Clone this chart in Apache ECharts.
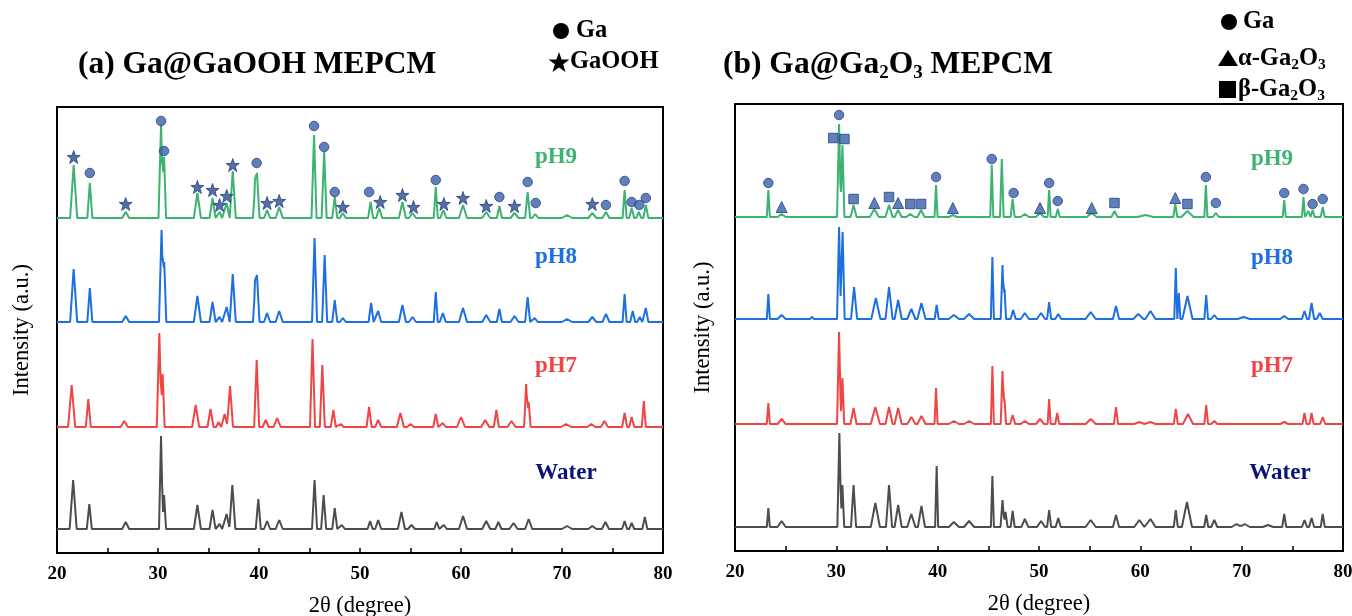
<!DOCTYPE html>
<html><head><meta charset="utf-8">
<script src="https://cdn.jsdelivr.net/npm/echarts@6/dist/echarts.min.js"></script>
<style>html,body{margin:0;padding:0;background:#fff}#c{width:1352px;height:616px}</style>
</head><body><div id="c"></div>
<script>
// ---- Data: XRD peaks: [2θ (deg), intensity (a.u.), half base width (deg)] ----
const A_pH9 = [[21.65,53,0.35],[23.25,35,0.25],[26.8,6,0.35],[30.3,93,0.25],[30.6,61,0.2],[33.9,25,0.35],[35.4,20,0.3],[36.1,6,0.25],[36.8,15,0.3],[37.4,47,0.3],[39.6,30,0.2],[39.8,45,0.25],[40.8,8,0.3],[42.0,11,0.35],[45.45,83,0.25],[46.45,66,0.25],[47.5,21,0.25],[48.3,5,0.3],[51.05,16,0.25],[51.9,10,0.3],[54.2,16,0.35],[55.2,5,0.35],[57.5,31,0.2],[58.25,8,0.3],[60.2,13,0.4],[62.5,6,0.4],[63.8,12,0.25],[65.3,5,0.4],[66.6,26,0.25],[67.35,4,0.3],[70.5,3,0.5],[73.0,5,0.4],[74.35,6,0.35],[76.2,28,0.2],[76.9,10,0.25],[77.6,6,0.25],[78.3,13,0.25]];
const A_pH8 = [[21.65,53,0.35],[23.25,34,0.25],[26.8,6,0.35],[30.35,92,0.25],[30.62,60,0.2],[33.9,26,0.35],[35.4,20,0.3],[36.1,5,0.25],[36.8,15,0.3],[37.4,48,0.3],[39.6,32,0.2],[39.8,47,0.25],[40.8,9,0.3],[42.0,11,0.35],[45.5,84,0.25],[46.5,67,0.25],[47.5,22,0.25],[48.3,4,0.3],[51.1,19,0.25],[51.8,11,0.3],[54.2,17,0.35],[55.2,5,0.35],[57.5,30,0.2],[58.2,9,0.3],[60.2,14,0.4],[62.5,7,0.4],[63.8,13,0.25],[65.3,6,0.4],[66.6,25,0.25],[67.3,4,0.3],[70.5,3,0.5],[73.0,5,0.4],[74.35,8,0.35],[76.2,28,0.2],[77.0,11,0.25],[77.7,5,0.25],[78.3,14,0.25]];
const A_pH7 = [[21.45,42,0.35],[23.1,28,0.25],[26.66,6,0.35],[30.13,94,0.25],[30.46,53,0.2],[33.73,22,0.35],[35.2,18,0.3],[36.0,5,0.25],[36.6,13,0.3],[37.13,41,0.3],[39.77,67,0.25],[40.66,7,0.3],[41.8,9,0.35],[45.3,88,0.25],[46.27,62,0.25],[47.36,17,0.25],[48.1,3,0.3],[50.9,20,0.25],[51.8,7,0.3],[54.0,14,0.35],[55.0,3,0.35],[57.5,13,0.25],[58.2,4,0.3],[60.0,10,0.4],[62.4,7,0.4],[63.5,17,0.25],[65.0,6,0.4],[66.45,43,0.2],[66.7,25,0.2],[70.4,3,0.5],[72.9,3,0.4],[74.2,6,0.35],[76.2,14,0.25],[76.9,10,0.25],[78.1,26,0.2]];
const A_Water = [[21.6,49,0.35],[23.2,25,0.25],[26.8,7,0.35],[30.3,93,0.2],[30.6,34,0.2],[33.9,24,0.35],[35.4,19,0.3],[36.1,5,0.25],[36.8,15,0.3],[37.36,44,0.3],[39.93,30,0.25],[40.8,8,0.3],[42.0,9,0.35],[45.5,49,0.25],[46.4,34,0.25],[47.5,21,0.25],[48.2,4,0.3],[51.0,8,0.25],[51.8,9,0.3],[54.1,17,0.35],[55.1,4,0.35],[57.6,7,0.25],[58.3,4,0.3],[60.2,13,0.4],[62.5,8,0.4],[63.7,7,0.3],[65.2,6,0.4],[66.7,10,0.35],[70.5,3,0.5],[73.0,3,0.4],[74.3,7,0.35],[76.2,8,0.25],[76.9,6,0.25],[78.2,12,0.25]];

const B_pH9 = [[23.29,27,0.15],[24.6,3,0.4],[30.27,93,0.2],[30.6,72,0.2],[31.7,12,0.3],[33.75,8,0.45],[35.2,12,0.35],[36.1,7,0.35],[37.3,3,0.4],[38.36,7,0.35],[39.84,32,0.15],[41.5,2,0.4],[45.34,52,0.15],[46.33,58,0.18],[47.4,18,0.2],[48.6,3,0.4],[50.1,4,0.4],[51.0,27,0.15],[51.85,8,0.2],[55.2,4,0.5],[57.45,6,0.3],[60.5,2,0.8],[63.45,13,0.2],[64.65,6,0.6],[66.47,32,0.15],[67.45,4,0.3],[74.2,17,0.15],[76.1,20,0.15],[76.6,6,0.2],[77.0,7,0.2],[78.0,10,0.2]];
const B_pH8 = [[23.29,25,0.15],[24.6,4,0.4],[27.6,2,0.2],[30.27,92,0.2],[30.62,87,0.2],[31.75,32,0.3],[33.9,21,0.45],[35.2,32,0.35],[36.1,19,0.35],[37.4,10,0.4],[38.4,16,0.4],[39.9,14,0.2],[41.6,4,0.5],[43.1,5,0.5],[45.4,62,0.15],[46.4,54,0.18],[46.6,30,0.15],[47.45,9,0.25],[48.6,6,0.4],[50.2,6,0.4],[51.0,17,0.2],[51.9,5,0.3],[55.1,7,0.5],[57.6,13,0.3],[59.8,5,0.5],[61.0,8,0.5],[63.5,51,0.15],[63.8,26,0.15],[64.65,23,0.5],[66.5,24,0.18],[67.3,4,0.3],[70.2,2,0.6],[74.2,3,0.4],[76.2,8,0.25],[76.9,16,0.25],[77.7,6,0.3]];
const B_pH7 = [[23.29,21,0.15],[24.6,5,0.4],[30.27,92,0.2],[30.6,46,0.18],[31.7,16,0.3],[33.85,17,0.45],[35.2,17,0.35],[36.1,16,0.35],[37.4,7,0.4],[38.4,8,0.4],[39.84,36,0.15],[41.6,3,0.5],[43.1,3,0.5],[45.4,58,0.15],[46.4,53,0.18],[46.6,25,0.15],[47.4,9,0.25],[48.6,3,0.4],[50.1,5,0.4],[51.0,25,0.15],[51.8,11,0.2],[55.1,5,0.5],[57.6,17,0.2],[59.9,2,0.5],[61.0,2,0.5],[63.5,15,0.2],[64.7,10,0.5],[66.5,19,0.18],[67.3,3,0.3],[74.2,2,0.4],[76.2,11,0.2],[76.9,11,0.2],[78.0,7,0.25]];
const B_Water = [[23.29,19,0.15],[24.6,6,0.4],[30.3,94,0.2],[30.6,42,0.18],[31.7,42,0.25],[33.85,24,0.45],[35.2,42,0.3],[36.1,22,0.35],[37.4,13,0.4],[38.4,21,0.35],[39.9,61,0.15],[41.6,5,0.5],[43.1,6,0.5],[45.4,51,0.15],[46.4,27,0.2],[46.7,15,0.2],[47.4,16,0.2],[48.6,8,0.35],[50.2,6,0.4],[51.0,17,0.2],[51.9,9,0.25],[55.1,7,0.5],[57.6,12,0.3],[59.9,7,0.5],[61.0,8,0.5],[63.5,17,0.2],[64.6,25,0.5],[66.5,12,0.2],[67.3,7,0.3],[69.5,3,0.5],[70.3,3,0.5],[72.6,2,0.5],[74.2,13,0.2],[76.2,7,0.25],[76.9,9,0.25],[78.0,13,0.2]];

// ---- Phase markers above the pH9 pattern: [2θ, level above pH9 baseline (a.u.)] ----
const A_GaMarks = [[23.25,45],[30.3,97],[30.6,67],[39.77,55],[45.45,92],[46.45,71],[47.5,26],[50.9,26],[57.5,38],[63.8,21],[66.6,36],[67.4,15],[74.35,13],[76.2,37],[76.9,16],[77.65,13],[78.3,20]];
const A_GaOOHMarks = [[21.65,61],[26.8,14],[33.9,31],[35.4,28],[36.1,13],[36.8,22],[37.4,53],[40.8,15],[42.0,17],[48.3,11],[52.0,16],[54.2,23],[55.3,11],[58.3,14],[60.2,20],[62.5,12],[65.3,12],[73.0,14]];
const B_GaMarks = [[23.29,34],[30.27,102],[39.84,40],[45.34,58],[47.5,24],[51.0,34],[51.85,16],[66.47,40],[67.45,14],[74.2,24],[76.1,28],[77.0,13],[78.0,18]];
const B_alphaMarks = [[24.6,10],[33.75,14],[36.1,14],[41.5,9],[50.1,9],[55.2,9],[63.45,19]];
const B_betaMarks = [[29.7,79],[30.8,78],[31.7,18],[35.2,20],[37.3,13],[38.36,13],[57.45,14],[64.65,13]];

const xTicks = [20,30,40,50,60,70,80];
const sampleNames = ['pH9','pH8','pH7','Water'];
const patternsA = {pH9:A_pH9, pH8:A_pH8, pH7:A_pH7, Water:A_Water};
const patternsB = {pH9:B_pH9, pH8:B_pH8, pH7:B_pH7, Water:B_Water};

// ---- styling / layout ----
const colors = {pH9:'#3cb371', pH8:'#1e6fe0', pH7:'#f04545', Water:'#4d4d4d'};
const labelColors = {pH9:'#3cb371', pH8:'#1e6fe0', pH7:'#f04545', Water:'#0a1478'};
const offA = {pH9:335, pH8:231, pH7:126, Water:24};
const offB = {pH9:334, pH8:232, pH7:127, Water:24};
const markColor = '#3a60aa', markBorder = '#24427f', starColor = '#2c4a8c';
const serif = '"Liberation Serif","Times New Roman",serif';
const starPts = [[0,-10],[2.35,-3.24],[9.51,-3.09],[3.8,1.24],[5.88,8.09],[0,4],[-5.88,8.09],[-3.8,1.24],[-9.51,-3.09],[-2.35,-3.24]];
const starPath = 'path://M' + starPts.map(p=>p.join(',')).join('L') + 'Z';

function curve(peaks, off){
  const xs = new Set([20,80]);
  peaks.forEach(p=>{xs.add(+(p[0]-p[2]).toFixed(3)); xs.add(p[0]); xs.add(+(p[0]+p[2]).toFixed(3));});
  const arr = [...xs].filter(x=>x>=20&&x<=80).sort((a,b)=>a-b);
  return arr.map(x=>{
    let y=0;
    peaks.forEach(p=>{const d=Math.abs(x-p[0]); if(d<p[2]) y+=p[1]*(1-d/p[2]);});
    return [x, off+y];
  });
}
const shift=(arr,off)=>arr.map(d=>[d[0],d[1]+off]);

const chart = echarts.init(document.getElementById('c'), null, {renderer:'canvas'});
function xAxis(gi){
  return {gridIndex:gi, type:'value', min:20, max:80, interval:5,
    axisLine:{show:true,onZero:false,lineStyle:{color:'#000',width:2}},
    axisTick:{show:true,inside:true,length:5,lineStyle:{color:'#000',width:1.5}},
    splitLine:{show:false},
    axisLabel:{margin:12,color:'#000',fontFamily:serif,fontWeight:'bold',fontSize:19,
      formatter:v=>xTicks.indexOf(v)>=0?String(v):''},
    name:'2θ (degree)', nameLocation:'middle', nameGap:42,
    nameTextStyle:{color:'#000',fontFamily:serif,fontSize:22.5}};
}
function yAxis(gi,max,gap){
  return {gridIndex:gi, type:'value', min:0, max:max,
    axisLine:{show:true,lineStyle:{color:'#000',width:2}},
    axisTick:{show:false}, axisLabel:{show:false}, splitLine:{show:false},
    name:'Intensity (a.u.)', nameLocation:'middle', nameGap:gap, nameRotate:90,
    nameTextStyle:{color:'#000',fontFamily:serif,fontSize:22.5}};
}
const series=[];
sampleNames.forEach(n=>{
  series.push({type:'line',xAxisIndex:0,yAxisIndex:0,data:curve(patternsA[n],offA[n]),
    showSymbol:false,lineStyle:{color:colors[n],width:2},z:2});
  series.push({type:'line',xAxisIndex:1,yAxisIndex:1,data:curve(patternsB[n],offB[n]),
    showSymbol:false,lineStyle:{color:colors[n],width:2},z:2});
});
const mk=(xi,data,symbol,size,col)=>({type:'scatter',xAxisIndex:xi,yAxisIndex:xi,data:data,symbol:symbol,symbolSize:size,
  itemStyle:{color:col||markColor,borderColor:markBorder,borderWidth:1},z:5});
series.push(mk(0,shift(A_GaMarks,offA.pH9),'circle',9.5));
series.push(mk(0,shift(A_GaOOHMarks,offA.pH9),starPath,13,starColor));
series.push(mk(1,shift(B_GaMarks,offB.pH9),'circle',9.5));
series.push(mk(1,shift(B_alphaMarks,offB.pH9),'triangle',11));
series.push(mk(1,shift(B_betaMarks,offB.pH9),'rect',9.5));

const graphic=[];
const lbl=(x,y,t,c)=>graphic.push({type:'text',x:x,y:y,style:{text:t,fontFamily:serif,fontWeight:'bold',fontSize:23,fill:c,textAlign:'center',textVerticalAlign:'middle'}});
lbl(556,157,'pH9',labelColors.pH9); lbl(556,257,'pH8',labelColors.pH8); lbl(556,366,'pH7',labelColors.pH7); lbl(566,473,'Water',labelColors.Water);
lbl(1272,159,'pH9',labelColors.pH9); lbl(1272,258,'pH8',labelColors.pH8); lbl(1272,366,'pH7',labelColors.pH7); lbl(1280,473,'Water',labelColors.Water);

const richT = {t:{fontFamily:serif,fontWeight:'bold',fontSize:31.5,color:'#000',lineHeight:36},
               s:{fontFamily:serif,fontWeight:'bold',fontSize:19,color:'#000',lineHeight:12,verticalAlign:'bottom'}};
const richL = {t:{fontFamily:serif,fontWeight:'bold',fontSize:24.5,color:'#000',lineHeight:28},
               s:{fontFamily:serif,fontWeight:'bold',fontSize:15.5,color:'#000',lineHeight:9,verticalAlign:'bottom'}};
graphic.push({type:'text',x:78,y:47,style:{text:'{t|(a) Ga@GaOOH MEPCM}',rich:richT}});
graphic.push({type:'text',x:723,y:47,style:{text:'{t|(b) Ga@Ga}{s|2}{t|O}{s|3}{t| MEPCM}',rich:richT}});
// legend (a)
graphic.push({type:'circle',shape:{cx:561,cy:31,r:8},style:{fill:'#000'}});
graphic.push({type:'text',x:576,y:17,style:{text:'{t|Ga}',rich:richL}});
graphic.push({type:'polygon',shape:{points:starPts.map(p=>[559+p[0]*1.1,63+p[1]*1.1])},style:{fill:'#000'}});
graphic.push({type:'text',x:570,y:48,style:{text:'{t|GaOOH}',rich:richL}});
// legend (b)
graphic.push({type:'circle',shape:{cx:1229,cy:22,r:8},style:{fill:'#000'}});
graphic.push({type:'text',x:1243,y:8,style:{text:'{t|Ga}',rich:richL}});
graphic.push({type:'polygon',shape:{points:[[1228,50],[1238,66],[1218,66]]},style:{fill:'#000'}});
graphic.push({type:'text',x:1238,y:45,style:{text:'{t|α-Ga}{s|2}{t|O}{s|3}',rich:richL}});
graphic.push({type:'rect',shape:{x:1219,y:81,width:17,height:17},style:{fill:'#000'}});
graphic.push({type:'text',x:1238,y:76,style:{text:'{t|β-Ga}{s|2}{t|O}{s|3}',rich:richL}});

chart.setOption({
  animation:false,
  backgroundColor:'#fff',
  grid:[{left:57,top:107,width:606,height:446,show:true,borderColor:'#000',borderWidth:2,backgroundColor:'transparent',outerBoundsMode:'none',containLabel:false},
        {left:735,top:104,width:608,height:447,show:true,borderColor:'#000',borderWidth:2,backgroundColor:'transparent',outerBoundsMode:'none',containLabel:false}],
  xAxis:[xAxis(0),xAxis(1)],
  yAxis:[yAxis(0,446,23),yAxis(1,447,20)],
  series:series,
  graphic:graphic
});
</script></body></html>
